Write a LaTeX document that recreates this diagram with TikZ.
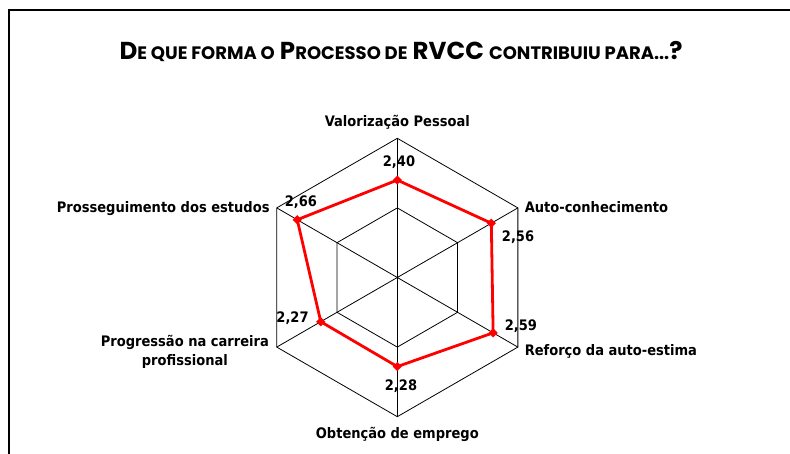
\documentclass[tikz,border=0pt]{standalone}
\usepackage{fontspec}
\usepackage{xcolor}
\usepackage{tikz}
\usetikzlibrary{calc}
\newfontfamily\rotulofont{DejaVu Sans Condensed}
\newfontfamily\titulofont{Poppins}
\newcommand\peq[1]{{\fontsize{18}{20}\selectfont #1}}

\begin{document}
\begin{tikzpicture}[x=1pt, y=1pt, thick,
		grade/.style = {draw=black, line width=0.8pt},
		serie/.style = {draw=red, line width=2.8pt, line join=round},
		eixo/.style = {font=\rotulofont\bfseries\fontsize{14.5}{19}\selectfont, inner sep=0pt},
		valor/.style = {font=\rotulofont\bfseries\fontsize{14.5}{17}\selectfont, inner sep=0pt},
		titulo/.style = {font=\titulofont\bfseries\fontsize{24.5}{28}\selectfont, inner sep=0pt}] 
		\useasboundingbox (0,0) rectangle (790,454);
		\path[shape=coordinate]
		(8.8,0) coordinate(Q1)
		(8.8,443.7) coordinate(Q2)
		(790,443.7) coordinate(Q3);
		\draw[line width=2pt] (Q1) -- (Q2) -- (Q3);
		
		\node[titulo, anchor=base] (titulo) at (401,394) {D\peq{E QUE FORMA O} P\peq{ROCESSO DE} RVCC \peq{CONTRIBUIU PARA...}?};
		
		\begin{scope}[shift={(397.3,176.5)}]
			\coordinate (O) at (0,0);
			\foreach \ang/\n in {90/A,30/B,-30/C,-90/D,-150/E,150/F}{
				\coordinate (\n) at (\ang:139.2);
				\coordinate (\n m) at (\ang:69.6);
			}
			
			\draw[grade] (A) -- (B) -- (C) -- (D) -- (E) -- (F) --cycle;
			\draw[grade] (Am) -- (Bm) -- (Cm) -- (Dm) -- (Em) -- (Fm) --cycle;
			\foreach \n in {A,B,C,D,E,F}
				\draw[grade] (O) -- (\n);
			
			% escala de 1 a 3
			\foreach \ang/\v/\n in {90/2.40/pA,30/2.56/pB,-30/2.59/pC,-90/2.28/pD,-150/2.27/pE,150/2.66/pF}
				\coordinate (\n) at (\ang:{(\v-1)*69.6});
			
			\draw[serie] (pA) -- (pB) -- (pC) -- (pD) -- (pE) -- (pF) --cycle;
			\foreach \n in {pA,pB,pC,pD,pE,pF}
				\fill[red] (\n) +(0,4.6) -- +(4.6,0) -- +(0,-4.6) -- +(-4.6,0) --cycle;
		\end{scope}
		
		\node[eixo, anchor=base] (valorizacao) at ($(A)+(0,11.6)$) {Valorização Pessoal};
		\node[eixo, anchor=base west] (autoconhecimento) at ($(B)+(6.5,-4.4)$) {Auto-conhecimento};
		\node[eixo, anchor=base west] (reforco) at ($(C)+(6.5,-8.6)$) {Reforço da auto-estima};
		\node[eixo, anchor=base] (emprego) at ($(D)+(0,-21.6)$) {Obtenção de emprego};
		\node[eixo, anchor=east, align=center] (carreira) at ($(E)+(-7.5,-4.7)$) {Progressão na carreira\\profissional};
		\node[eixo, anchor=base east] (estudos) at ($(F)+(-6.8,-4.4)$) {Prosseguimento dos estudos};
		
		\node[valor, anchor=base] (vA) at ($(pA)+(1.7,13.4)$) {2,40};
		\node[valor, anchor=base] (vB) at ($(pB)+(26.7,-17.8)$) {2,56};
		\node[valor, anchor=base] (vC) at ($(pC)+(27.8,2.8)$) {2,59};
		\node[valor, anchor=base] (vD) at ($(pD)+(3.7,-24.1)$) {2,28};
		\node[valor, anchor=base] (vE) at ($(pE)+(-28.2,-0.6)$) {2,27};
		\node[valor, anchor=base] (vF) at ($(pF)+(3.7,13.7)$) {2,66};
	\end{tikzpicture}
\end{document}
